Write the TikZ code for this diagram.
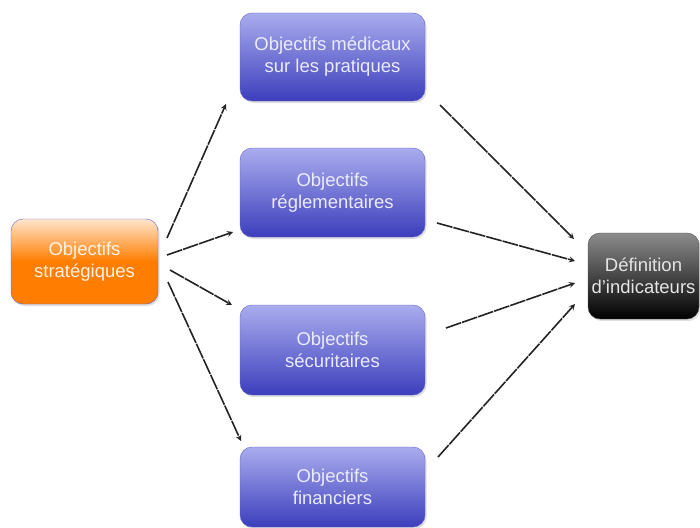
\documentclass[tikz,border=0pt]{standalone}
\usepackage{fontspec}
\setmainfont{Liberation Sans}
\usetikzlibrary{shadows}
\definecolor{boxblue}{RGB}{60,62,188}
\definecolor{lightblue}{RGB}{170,172,238}
\definecolor{rimblue}{RGB}{98,98,200}
\definecolor{stratorange}{RGB}{255,125,0}
\definecolor{arrowgray}{RGB}{35,35,35}
\tikzset{
  objbox/.style={draw=rimblue, rounded corners=12, inner sep=0pt, align=center,
    text=white!92!blue, font=\fontsize{18.5}{22}\selectfont,
    top color=lightblue, bottom color=boxblue,
    drop shadow={shadow xshift=1.5pt, shadow yshift=-2pt, opacity=0.25}},
  flow/.style={draw=arrowgray, line width=1.6pt, -stealth, dash pattern=on 16pt off 1pt}
}
\begin{document}
\begin{tikzpicture}[x=1pt,y=-1pt]
\useasboundingbox (0,0) rectangle (700,527);
\node[objbox, minimum width=147, minimum height=85, draw=rimblue,
  top color=white!80!stratorange, bottom color=stratorange, middle color=stratorange,
  text=white!90!stratorange] (strat) at (84.5,261.5) {Objectifs\\strat\'egiques};
\node[objbox, minimum width=185, minimum height=88] (medic) at (332.5,57) {Objectifs m\'edicaux\\sur les pratiques};
\node[objbox, minimum width=185, minimum height=89] (regle) at (332.5,192.5) {Objectifs\\r\'eglementaires};
\node[objbox, minimum width=185, minimum height=90] (secur) at (332.5,350) {Objectifs\\s\'ecuritaires};
\node[objbox, minimum width=185, minimum height=80] (financ) at (332.5,487) {Objectifs\\financiers};
\node[objbox, minimum width=111, minimum height=86, draw=black!70,
  top color=black!45, bottom color=black, text=white!90!black] (indic) at (643.5,276) {D\'efinition\\d'indicateurs};

% points where the arrows start and stop
\coordinate (s1) at (167,238);
\coordinate (s2) at (167,255);
\coordinate (s3) at (170,270);
\coordinate (s4) at (168,282);
\coordinate (m1) at (226,104);
\coordinate (r1) at (233,232);
\coordinate (c1) at (232,305);
\coordinate (f1) at (241,441);
\coordinate (m2) at (440,105);
\coordinate (r2) at (437,223);
\coordinate (c2) at (446,328);
\coordinate (f2) at (438,457);
\coordinate (i1) at (574,239);
\coordinate (i2) at (575,261);
\coordinate (i3) at (575,283);
\coordinate (i4) at (575,304);

\path[flow] (s1) -- (m1);
\path[flow] (s2) -- (r1);
\path[flow] (s3) -- (c1);
\path[flow] (s4) -- (f1);
\path[flow] (m2) -- (i1);
\path[flow] (r2) -- (i2);
\path[flow] (c2) -- (i3);
\path[flow] (f2) -- (i4);
\end{tikzpicture}
\end{document}
